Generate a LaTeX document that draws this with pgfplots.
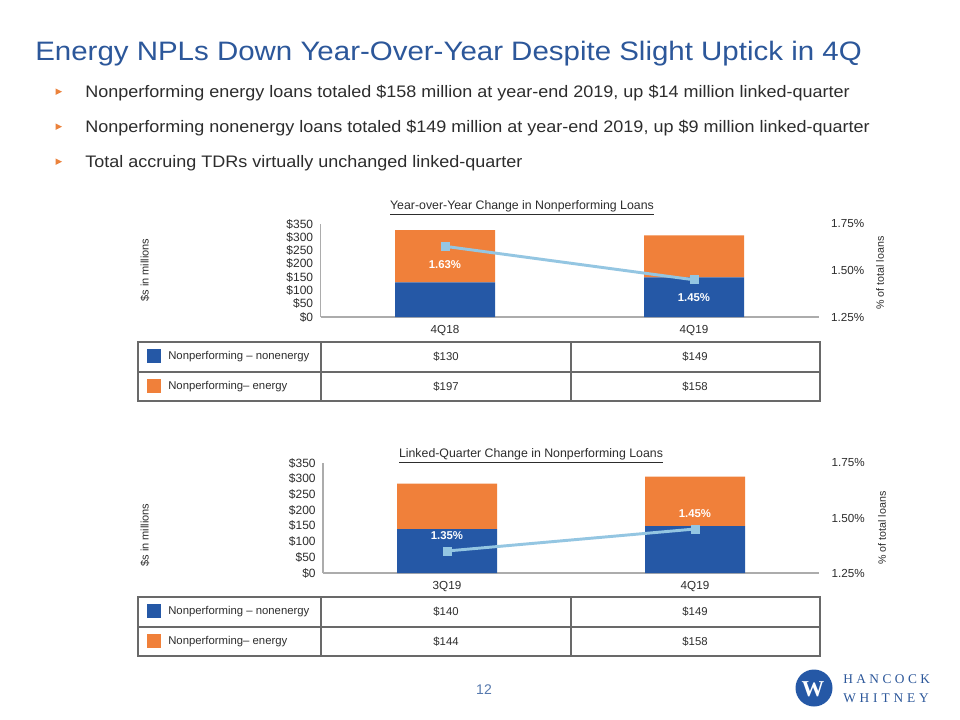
\documentclass[border=0pt]{standalone}
\usepackage{fontspec}
\setmainfont{Liberation Sans}
\newfontfamily\logofont{Liberation Serif}
\usepackage{pgfplots}
\pgfplotsset{compat=1.18}
\definecolor{navy}{RGB}{37,88,166}
\definecolor{orng}{RGB}{240,128,58}
\definecolor{lblue}{RGB}{148,198,226}
\definecolor{ttl}{RGB}{44,87,154}
\definecolor{txt}{RGB}{45,45,45}
\definecolor{gridc}{RGB}{105,105,105}
\definecolor{bul}{RGB}{235,130,60}
\newcommand{\fs}[1]{\fontsize{#1}{#1}\selectfont}

\pgfplotsset{
 barax/.style={scale only axis, anchor=south west, xmin=-0.5, xmax=1.5, ymin=0, ymax=350,
   ybar stacked, bar width=75pt, axis x line*=bottom, axis y line*=left,
   xtick={0,1}, ytick={0,50,...,350},
   yticklabels={\$0,\$50,\$100,\$150,\$200,\$250,\$300,\$350},
   major tick length=0pt, axis line style={draw=gray!65, line width=0.8pt},
   /pgf/number format/assume math mode=true,
   yticklabel style={font=\fs{9}, text=txt, xshift=-2pt},
   xticklabel style={font=\fs{8.75}, text=txt, yshift=-3pt}},
 lineax/.style={scale only axis, anchor=south west, xmin=-0.5, xmax=1.5, ymin=1.25, ymax=1.75,
   axis x line=none, axis y line*=right, y axis line style={draw=none},
   ytick={1.25,1.5,1.75}, yticklabels={1.25\%,1.50\%,1.75\%},
   major tick length=0pt, /pgf/number format/assume math mode=true,
   yticklabel style={font=\fs{8.75}, text=txt, xshift=6pt}},
 pline/.style={color=lblue, line width=2.2pt, mark=square*, mark size=3pt,
   mark options={fill=lblue, draw=lblue, line width=0.5pt},
   nodes near coords={\pgfmathprintnumber[fixed,fixed zerofill,precision=2,assume math mode=true]{\pgfplotspointmeta}\%}}
}

\newcommand{\drawtable}[5]{%
 \draw[gridc, line width=0.9pt] (138,#1) rectangle (820,{#1+59});
 \draw[gridc, line width=0.8pt] (138,{#1+30}) -- (820,{#1+30});
 \draw[gridc, line width=0.8pt] (321,#1) -- (321,{#1+59});
 \draw[gridc, line width=0.8pt] (571,#1) -- (571,{#1+59});
 \fill[navy] (147,{#1+7}) rectangle (161,{#1+21});
 \fill[orng] (147,{#1+37}) rectangle (161,{#1+51});
 \node[anchor=west, font=\fs{8.5}, text=txt, inner sep=0pt] at (168,{#1+14.5}) {Nonperforming -- nonenergy};
 \node[anchor=west, font=\fs{8.5}, text=txt, inner sep=0pt] at (168,{#1+44.5}) {Nonperforming--~energy};
 \node[font=\fs{8.5}, text=txt, inner sep=0pt] at (446,{#1+14.5}) {#2};
 \node[font=\fs{8.5}, text=txt, inner sep=0pt] at (695,{#1+14.5}) {#3};
 \node[font=\fs{8.5}, text=txt, inner sep=0pt] at (446,{#1+44.5}) {#4};
 \node[font=\fs{8.5}, text=txt, inner sep=0pt] at (695,{#1+44.5}) {#5};
}

\begin{document}
\begin{tikzpicture}
\fill[white] (0,0) rectangle (720pt,-540pt);

% ---------- Top chart axes ----------
\begin{axis}[barax, at={({320.5*0.75pt},{-317*0.75pt})}, width=373.5pt, height=69.75pt, xticklabels={4Q18,4Q19}]
\addplot[fill=navy, draw=none] coordinates {(0,130) (1,149)};
\addplot[fill=orng, draw=none] coordinates {(0,197) (1,158)};
\end{axis}
\begin{axis}[lineax, at={({320.5*0.75pt},{-317*0.75pt})}, width=373.5pt, height=69.75pt]
\addplot[pline, every node near coord/.append style={text=white, font=\bfseries\fs{8.5}, anchor=center, yshift=-13.5pt}]
  coordinates {(0,1.63) (1,1.45)};
\end{axis}

% ---------- Bottom chart axes ----------
\begin{axis}[barax, at={({323*0.75pt},{-573*0.75pt})}, width=372pt, height=82.5pt, xticklabels={3Q19,4Q19}]
\addplot[fill=navy, draw=none] coordinates {(0,140) (1,149)};
\addplot[fill=orng, draw=none] coordinates {(0,144) (1,158)};
\end{axis}
\begin{axis}[lineax, at={({323*0.75pt},{-573*0.75pt})}, width=372pt, height=82.5pt]
\addplot[pline, every node near coord/.append style={text=white, font=\bfseries\fs{8.5}, anchor=center, yshift=11.5pt}]
  coordinates {(0,1.35) (1,1.45)};
\end{axis}

\begin{scope}[x=0.75pt, y=-0.75pt]
% Title
\node[anchor=base west, inner sep=0pt, text=ttl] at (35,61)
  {\scalebox{1.105}[1]{\fs{20}Energy NPLs Down Year-Over-Year Despite Slight Uptick in 4Q}};

% Bullets
\foreach \yy/\tt in {98/{Nonperforming energy loans totaled \$158 million at year-end 2019, up \$14 million linked-quarter},
                     133/{Nonperforming nonenergy loans totaled \$149 million at year-end 2019, up \$9 million linked-quarter},
                     168/{Total accruing TDRs virtually unchanged linked-quarter}}{
  \fill[bul] (55.5,{\yy-9.5}) -- (55.5,{\yy-3}) -- (62,{\yy-6.25}) -- cycle;
  \node[anchor=base west, inner sep=0pt, text=txt, font=\fs{12.5}] at (85,\yy) {\scalebox{1.08}[1]{\tt}};
}

\node[font=\fs{9.25}, text=txt] at (522,208) {\underline{Year-over-Year Change in Nonperforming Loans}};
\node[rotate=90, font=\fs{8.25}, text=txt] at (145,270) {\$s in millions};
\node[rotate=90, font=\fs{8}, text=txt] at (880,273) {\% of total loans};
\drawtable{342}{\$130}{\$149}{\$197}{\$158}

\node[font=\fs{9.25}, text=txt] at (531,456) {\underline{Linked-Quarter Change in Nonperforming Loans}};
\node[rotate=90, font=\fs{8.25}, text=txt] at (145,535) {\$s in millions};
\node[rotate=90, font=\fs{8}, text=txt] at (882,528) {\% of total loans};
\drawtable{597}{\$140}{\$149}{\$144}{\$158}

% Page number
\node[font=\fs{10.5}, text=ttl!80] at (484,690) {12};

% Logo
\fill[navy] (814,688) circle (18.5);
\node[text=white, font=\logofont\bfseries\fs{17}, inner sep=0pt] at (813,689) {W};
\node[anchor=base west, inner sep=0pt, text=ttl, font=\logofont\fs{10}] at (843,683)
  {H\kern2.6pt A\kern2.6pt N\kern2.6pt C\kern2.6pt O\kern2.6pt C\kern2.6pt K};
\node[anchor=base west, inner sep=0pt, text=ttl, font=\logofont\fs{10}] at (843,702)
  {W\kern2.9pt H\kern2.9pt I\kern2.9pt T\kern2.9pt N\kern2.9pt E\kern2.9pt Y};
\end{scope}
\end{tikzpicture}
\end{document}
